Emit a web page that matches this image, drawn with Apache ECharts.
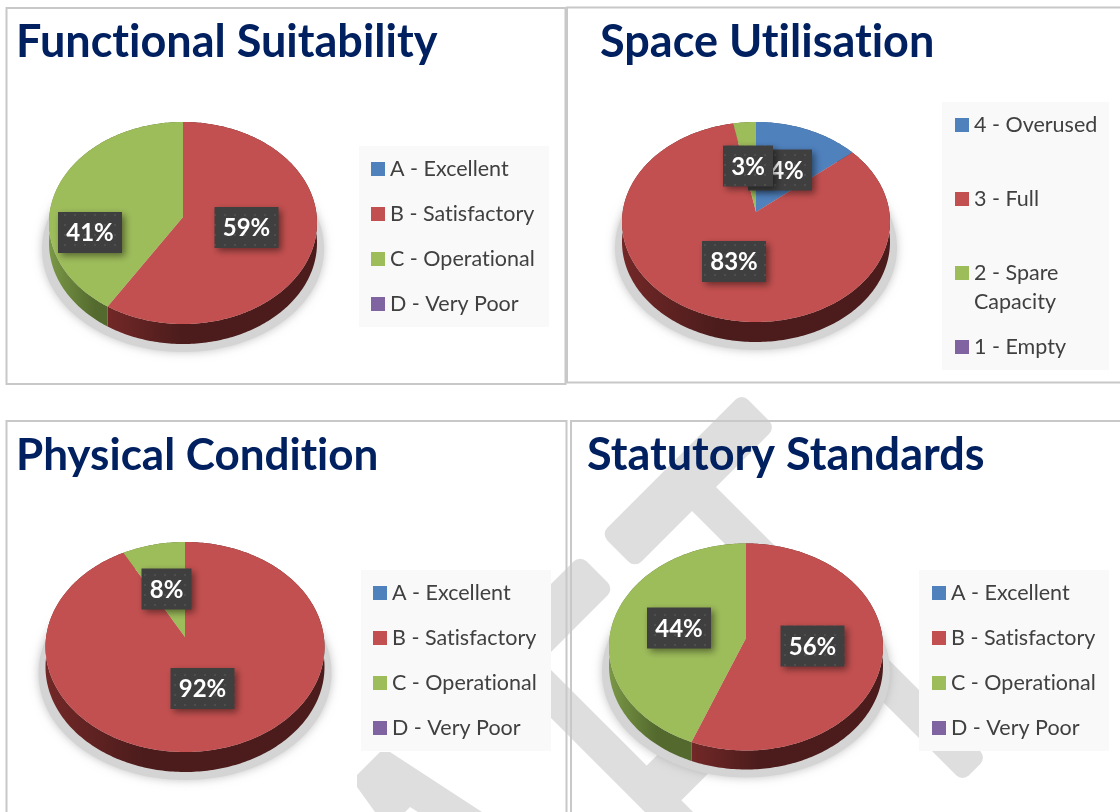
<!DOCTYPE html>
<html>
<head>
<meta charset="utf-8">
<style>
html, body { margin: 0; padding: 0; background: #fff; }
#main { width: 1120px; height: 812px; }
</style>
<script src="https://cdn.jsdelivr.net/npm/echarts@6/dist/echarts.min.js"></script>
</head>
<body>
<div id="main"></div>
<script>
// chart values
const gradeNames = ['A - Excellent', 'B - Satisfactory', 'C - Operational', 'D - Very Poor'];
const spaceNames = ['4 - Overused', '3 - Full', '2 - Spare\nCapacity', '1 - Empty'];
const functionalValues = [0, 59, 41, 0];
const spaceValues = [14, 83, 3, 0];
const physicalValues = [0, 92, 8, 0];
const statutoryValues = [0, 56, 44, 0];

const colors = ['#4f81bd', '#c35050', '#9dbc5a', '#8064a2'];
const sideColors = [
    ['#3a5f8c', '#2f4d72'],
    ['#722827', '#4c1c1c'],
    ['#7a9846', '#53692e'],
    ['#5e4a78', '#4a3a5f']
];

// layout of each panel, label spots are offsets from the ellipse centre
// tilt = how far the wedge tip sits above the ellipse centre
const panels = [
    {
        title: 'Functional Suitability', titleX: 16, titleY: 20, titleSize: 45,
        names: gradeNames, values: functionalValues,
        cx: 183, cy: 223, rx: 134, ry: 101, depth: 20, tilt: 6,
        labels: [null, [63.5, 4.5], [-93, 9.5], null],
        box: [359, 146, 190, 181], swatchX: 371, legendY: [169, 214, 259, 304]
    },
    {
        title: 'Space Utilisation', titleX: 600, titleY: 20, titleSize: 45,
        names: spaceNames, values: spaceValues,
        cx: 756, cy: 222, rx: 134, ry: 100, depth: 20, tilt: 10,
        labels: [[24, -52], [-22, 39.5], [-8, -56], null],
        box: [942, 102, 167, 268], swatchX: 955, legendY: [125, 199, 273, 347]
    },
    {
        title: 'Physical Condition', titleX: 16, titleY: 434, titleSize: 44,
        names: gradeNames, values: physicalValues,
        cx: 185, cy: 647, rx: 139.5, ry: 105, depth: 20, tilt: 10,
        labels: [null, [17.5, 41.5], [-18.5, -58], null],
        box: [361, 570, 190, 181], swatchX: 373, legendY: [593, 638, 683, 728]
    },
    {
        title: 'Statutory Standards', titleX: 587, titleY: 433, titleSize: 45,
        names: gradeNames, values: statutoryValues,
        cx: 746, cy: 647, rx: 137, ry: 103.5, depth: 19, tilt: 9,
        labels: [null, [66.5, -1], [-67, -19], null],
        box: [919, 570, 190, 181], swatchX: 932, legendY: [593, 638, 683, 728]
    }
];

// plain glyphs, Lato would otherwise join "ti" into a ligature
const getCtx = HTMLCanvasElement.prototype.getContext;
HTMLCanvasElement.prototype.getContext = function () {
    const c = getCtx.apply(this, arguments);
    if (c && 'textRendering' in c) c.textRendering = 'optimizeSpeed';
    return c;
};

const chart = echarts.init(document.getElementById('main'), null, { renderer: 'canvas' });

// little dotted fill for the label boxes
const dots = document.createElement('canvas');
dots.width = 10;
dots.height = 10;
const dctx = dots.getContext('2d');
dctx.fillStyle = '#3f3f3f';
dctx.fillRect(0, 0, 10, 10);
dctx.fillStyle = '#4e4e4e';
dctx.fillRect(4, 4, 2, 2);

// rim point seen from the wedge tip, which sits above the ellipse centre
function ringPoint(p, frac, off) {
    const a = frac * Math.PI * 2;
    const k = p.tilt / p.ry;
    const t = -k * Math.cos(a) + Math.sqrt(1 - k * k * Math.sin(a) * Math.sin(a));
    return [
        p.cx + p.rx * t * Math.sin(a),
        p.cy - p.tilt - p.ry * t * Math.cos(a) + off
    ];
}

function arcPoints(p, from, to, off) {
    const pts = [];
    const n = Math.max(2, Math.ceil((to - from) * 360));
    for (let i = 0; i <= n; i++) {
        pts.push(ringPoint(p, from + (to - from) * i / n, off));
    }
    return pts;
}

function makeSlice(panel, index) {
    const total = panel.values.reduce((a, b) => a + b, 0);
    const before = panel.values.slice(0, index).reduce((a, b) => a + b, 0);
    return function (params, api) {
        const val = api.value(0);
        if (!val) return { type: 'group', children: [] };
        const from = before / total;
        const to = (before + val) / total;
        const top = arcPoints(panel, from, to, 0);
        const bottom = arcPoints(panel, from, to, panel.depth).reverse();
        const children = [
            {
                type: 'polygon',
                z2: 1,
                shape: { points: top.concat(bottom) },
                style: {
                    fill: new echarts.graphic.LinearGradient(0, 0, 1, 0, [
                        { offset: 0, color: sideColors[index][0] },
                        { offset: 0.35, color: sideColors[index][1] },
                        { offset: 1, color: sideColors[index][1] }
                    ])
                }
            },
            {
                type: 'polygon',
                z2: 2,
                shape: { points: [[panel.cx, panel.cy - panel.tilt]].concat(top) },
                style: { fill: colors[index] }
            }
        ];
        const spot = panel.labels[index];
        if (spot) {
            const w = val < 10 ? 50 : 64;
            const lx = panel.cx + spot[0];
            const ly = panel.cy + spot[1];
            const order = 10 + (index === 2 ? 2 : 0);
            children.push({
                type: 'rect',
                z2: order,
                shape: { x: lx - w / 2, y: ly - 20.5, width: w, height: 41 },
                style: {
                    fill: { image: dots, repeat: 'repeat' },
                    shadowBlur: 7,
                    shadowColor: 'rgba(0,0,0,0.45)',
                    shadowOffsetX: 3,
                    shadowOffsetY: 3
                }
            }, {
                type: 'text',
                z2: order + 1,
                style: {
                    x: lx,
                    y: ly + 1,
                    text: val + '%',
                    align: 'center',
                    verticalAlign: 'middle',
                    fill: '#fff',
                    font: 'bold 24px Lato'
                }
            });
        }
        return { type: 'group', children: children };
    };
}

// watermark pieces, rotated bars of the big DRAFT behind the panels
function bar(x, y, len, thick, deg) {
    return {
        type: 'rect',
        x: x,
        y: y,
        rotation: deg * Math.PI / 180,
        z: 0,
        shape: { x: -len / 2, y: -thick / 2, width: len, height: thick, r: 9 },
        style: { fill: '#dedede' }
    };
}

const graphics = [
    bar(688.3, 480.7, 199, 48, 45),
    bar(830, 625, 409, 34, -45),
    bar(549, 620, 136, 48, 45),
    bar(600.5, 743.5, 281, 34, -45),
    bar(677, 770, 104, 49, 45),
    {
        type: 'polygon',
        z: 0,
        shape: {
            points: [[380, 752], [390, 752], [482, 812], [418, 812], [410, 807],
                [405, 812], [375, 812], [357, 787], [357, 775]]
        },
        style: { fill: '#dedede' }
    }
];

panels.forEach(p => {
    graphics.push({
        type: 'ellipse',
        z: 1,
        shape: { cx: p.cx, cy: p.cy + p.depth + 6, rx: p.rx + 7, ry: p.ry + 2 },
        style: { fill: '#d4d4d4', shadowBlur: 10, shadowColor: 'rgba(170,170,170,0.7)' }
    });
    graphics.push({
        type: 'rect',
        z: 1,
        shape: { x: p.box[0], y: p.box[1], width: p.box[2], height: p.box[3] },
        style: { fill: '#f9f9f9' }
    });
});

const frames = [
    [6.5, 8, 559, 376],
    [567, 7.5, 560, 375],
    [6.5, 421, 560, 400],
    [571, 421, 560, 400]
];
frames.forEach(f => {
    graphics.push({
        type: 'rect',
        z: 1,
        shape: { x: f[0], y: f[1], width: f[2], height: f[3] },
        style: { fill: 'none', stroke: '#c8c8c8', lineWidth: 2 }
    });
});

const series = [];
const legends = [];
const legendLine = 29;
panels.forEach(panel => {
    panel.names.forEach((name, i) => {
        series.push({
            type: 'custom',
            name: name,
            coordinateSystem: 'none',
            z: 3,
            silent: true,
            itemStyle: { color: colors[i] },
            data: [[panel.values[i]]],
            renderItem: makeSlice(panel, i)
        });
        const two = name.indexOf('\n') >= 0;
        legends.push({
            data: [name],
            selectedMode: false,
            left: panel.swatchX,
            top: panel.legendY[i] - (two ? legendLine * 1.5 : legendLine / 2),
            padding: 0,
            icon: 'rect',
            itemWidth: 14,
            itemHeight: 14,
            itemGap: 0,
            formatter: n => (n.indexOf('\n') >= 0 ? '\n' + n : n),
            textStyle: {
                color: '#404040',
                fontFamily: 'Lato',
                fontSize: 21.5,
                lineHeight: legendLine
            }
        });
    });
});

const option = {
    backgroundColor: '#fff',
    animation: false,
    title: panels.map(p => ({
        text: p.title,
        left: p.titleX,
        top: p.titleY,
        padding: 0,
        textStyle: { color: '#002060', fontFamily: 'Lato', fontWeight: 'bold', fontSize: p.titleSize }
    })),
    legend: legends,
    graphic: graphics,
    series: series
};
chart.setOption(option);
</script>
</body>
</html>
